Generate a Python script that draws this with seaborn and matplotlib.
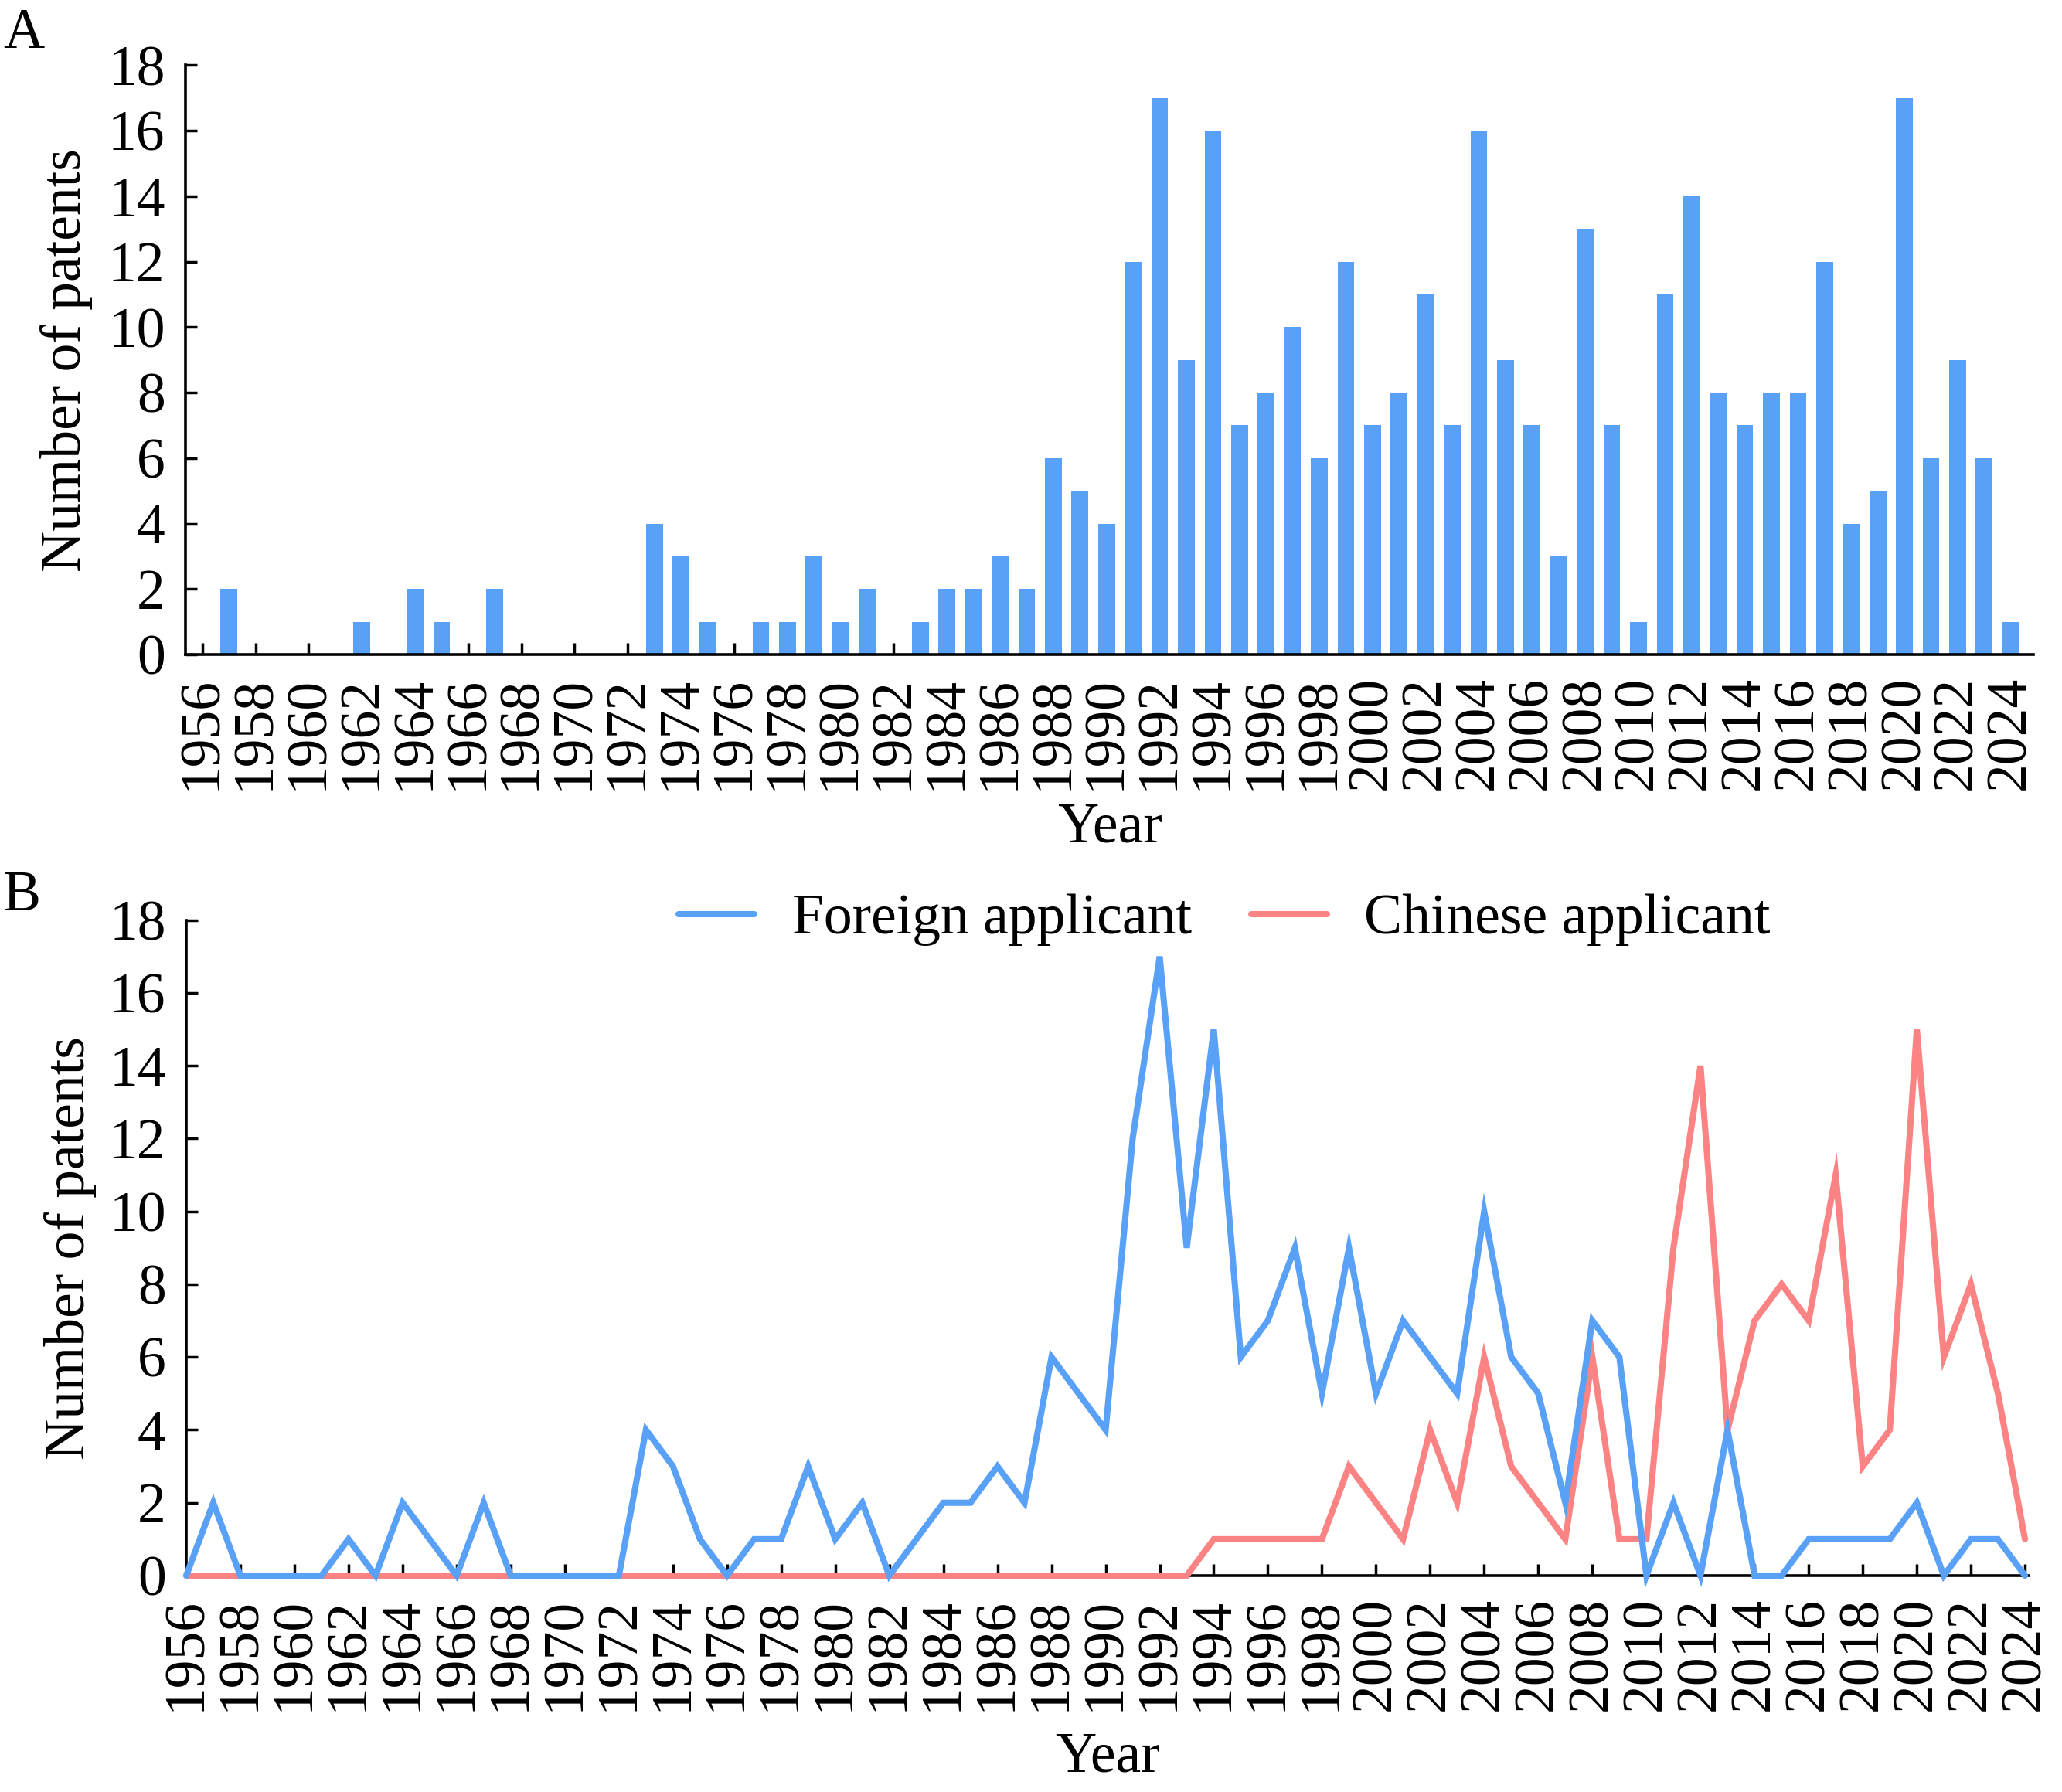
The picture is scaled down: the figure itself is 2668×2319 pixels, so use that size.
import numpy as np
import pandas as pd
import matplotlib
matplotlib.use('Agg')
import matplotlib.pyplot as plt
import seaborn as sns

# ---- data ----
years = list(range(1956, 2025))

total_patents = [
    0, 2, 0, 0, 0, 0, 1, 0, 2, 1,          # 1956-1965
    0, 2, 0, 0, 0, 0, 0, 4, 3, 1,          # 1966-1975
    0, 1, 1, 3, 1, 2, 0, 1, 2, 2,          # 1976-1985
    3, 2, 6, 5, 4, 12, 17, 9, 16, 7,       # 1986-1995
    8, 10, 6, 12, 7, 8, 11, 7, 16, 9,      # 1996-2005
    7, 3, 13, 7, 1, 11, 14, 8, 7, 8,       # 2006-2015
    8, 12, 4, 5, 17, 6, 9, 6, 1,           # 2016-2024
]

foreign_applicant = [
    0, 2, 0, 0, 0, 0, 1, 0, 2, 1,
    0, 2, 0, 0, 0, 0, 0, 4, 3, 1,
    0, 1, 1, 3, 1, 2, 0, 1, 2, 2,
    3, 2, 6, 5, 4, 12, 17, 9, 15, 6,
    7, 9, 5, 9, 5, 7, 6, 5, 10, 6,
    5, 2, 7, 6, 0, 2, 0, 4, 0, 0,
    1, 1, 1, 1, 2, 0, 1, 1, 0,
]

chinese_applicant = [
    0, 0, 0, 0, 0, 0, 0, 0, 0, 0,
    0, 0, 0, 0, 0, 0, 0, 0, 0, 0,
    0, 0, 0, 0, 0, 0, 0, 0, 0, 0,
    0, 0, 0, 0, 0, 0, 0, 0, 1, 1,
    1, 1, 1, 3, 2, 1, 4, 2, 6, 3,
    2, 1, 6, 1, 1, 9, 14, 4, 7, 8,
    7, 11, 3, 4, 15, 6, 8, 5, 1,
]

year_ticks = list(range(1956, 2025, 2))
count_ticks = list(range(0, 19, 2))

BLUE = '#59a1f7'
RED = '#fc8383'
FS = 53

sns.set_theme(style='ticks')
plt.rcParams['font.family'] = ['Liberation Serif', 'DejaVu Serif']
plt.rcParams['axes.linewidth'] = 2.6
plt.rcParams['text.color'] = 'black'
plt.rcParams['axes.labelcolor'] = 'black'


def style_axis(ax, xlim):
    sns.despine(ax=ax)
    ax.set_xlim(*xlim)
    ax.set_ylim(0, 18)
    ax.set_xticks(year_ticks)
    ax.set_xticklabels([str(y) for y in year_ticks], rotation=90)
    ax.set_yticks(count_ticks)
    ax.tick_params(axis='both', direction='in', length=10.5, width=2.5,
                   labelsize=FS, color='black', labelcolor='black')
    ax.tick_params(axis='x', pad=20)
    ax.tick_params(axis='y', pad=19)
    ax.set_xlabel('Year', fontsize=FS, color='black')
    ax.set_ylabel('Number of patents', fontsize=FS, color='black')
    for s in ax.spines.values():
        s.set_color('black')
    ax.set_facecolor('white')


fig = plt.figure(figsize=(26.68, 23.19), dpi=100)
fig.patch.set_facecolor('white')

# ---- panel A: total patents per year ----
axA = fig.add_axes([0.08996, 0.63476, 0.89617, 0.32889])
bar_df = pd.DataFrame({'Year': years, 'Count': total_patents})
sns.barplot(data=bar_df, x='Year', y='Count', native_scale=True,
            color=BLUE, saturation=1, width=0.63, linewidth=0, ax=axA)
style_axis(axA, (1955.37, 2024.85))
axA.xaxis.set_label_coords(0.5, -0.25)
axA.yaxis.set_label_coords(-0.050, 0.5)

# ---- panel B: foreign vs chinese applicants ----
axB = fig.add_axes([0.09033, 0.12074, 0.89355, 0.36585])
sns.lineplot(x=years, y=chinese_applicant, color=RED, linewidth=5.8,
             label='Chinese applicant', ax=axB, clip_on=False, zorder=3,
             solid_joinstyle='miter')
sns.lineplot(x=years, y=foreign_applicant, color=BLUE, linewidth=5.8,
             label='Foreign applicant', ax=axB, clip_on=False, zorder=4,
             solid_joinstyle='miter')
style_axis(axB, (1956, 2024.14))
axB.xaxis.set_label_coords(0.5, -0.238)
axB.yaxis.set_label_coords(-0.0485, 0.5)

handles, labels = axB.get_legend_handles_labels()
for h in handles:
    h.set_solid_capstyle('round')
axB.legend(handles[::-1], labels[::-1], loc='center', bbox_to_anchor=(0.5635, 1.0),
           ncol=2, frameon=False, fontsize=FS, handlelength=1.33,
           handletextpad=0.66, columnspacing=1.05, borderaxespad=0)

fig.text(0.0015, 0.9733, 'A', fontsize=FS, ha='left', va='baseline')
fig.text(0.0015, 0.492, 'B', fontsize=FS, ha='left', va='baseline')

fig.savefig('out.png', dpi=100, facecolor='white')
